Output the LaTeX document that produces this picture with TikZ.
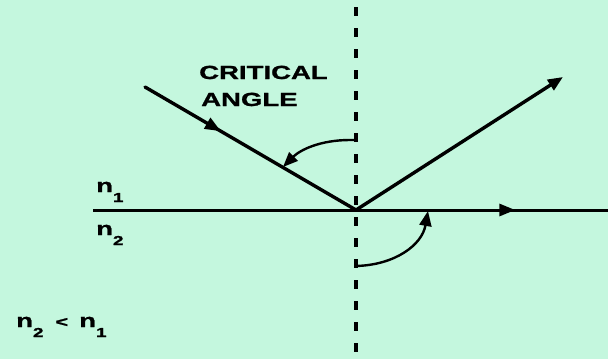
\documentclass[tikz,border=0pt]{standalone}
\usepackage{fontspec}
\setmainfont{Liberation Sans}[FakeStretch=1.45]
\newfontfamily\heavy{Liberation Sans}[FakeStretch=1.45, FakeBold=1.2, BoldFeatures={FakeStretch=1.45, FakeBold=1.2}]
\usetikzlibrary{arrows.meta,decorations.markings}
\definecolor{bgmint}{RGB}{196,247,222}
\tikzset{
  ray/.style={line width=3.4pt, line cap=round},
  tip/.style={-{Triangle[length=15pt,width=12pt]}},
  midtip/.style={postaction=decorate, decoration={markings, mark=at position #1 with {\arrow{Triangle[length=16pt,width=12pt]}}}},
  lbl/.style={anchor=base west, inner sep=0pt, font=\fontsize{19pt}{21pt}\selectfont\heavy\bfseries},
  arcline/.style={line width=2.4pt},
}
\newcommand{\lowsub}[1]{\raisebox{-10pt}{\fontsize{13pt}{14pt}\selectfont\heavy\bfseries #1}}
\begin{document}
\begin{tikzpicture}[x=1pt,y=-1pt]
\fill[bgmint] (0,0) rectangle (608,359);
\useasboundingbox (0,0) rectangle (608,359);
% points
\coordinate (top) at (356,7);
\coordinate (bot) at (356,359);
\coordinate (O) at (356,210);
\coordinate (inc) at (145,87);
\coordinate (refl) at (563,77);
\coordinate (hl) at (93,210);
\coordinate (hr) at (608,210);
\coordinate (a1s) at (356,140);
\coordinate (a1e) at (283,167);
\coordinate (a2s) at (356,266);
\coordinate (a2e) at (428,211);
% normal
\draw[line width=3.6pt, dash pattern=on 9pt off 12pt] (top) -- (bot);
% interface
\draw[line width=3pt, midtip=0.82] (hl) -- (hr);
% incident ray
\draw[ray, midtip=0.36] (inc) -- (O);
% reflected ray
\draw[ray, tip] (O) -- (refl);
% critical angle arcs
\draw[arcline, tip] (a1s) -- (350,140) .. controls (320,140) and (300,150) .. (a1e);
\draw[arcline, tip] (a2s) .. controls (395,265) and (422,245) .. (a2e);
% labels
\node[lbl] (crit) at (199,79) {CRITICAL};
\node[lbl] (ang) at (201,106) {ANGLE};
\node[lbl] (n1) at (96,192) {n\lowsub{1}};
\node[lbl] (n2) at (96,235) {n\lowsub{2}};
\node[lbl] (ineq) at (16,327) {n\lowsub{2}\hspace{12pt}{\fontsize{15pt}{15pt}\selectfont<}\hspace{11pt}n\lowsub{1}};
\end{tikzpicture}
\end{document}
